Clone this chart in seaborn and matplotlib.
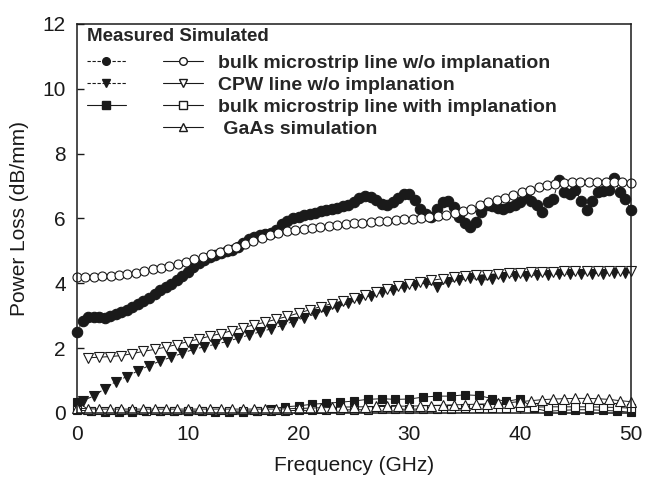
import numpy as np
import matplotlib
matplotlib.use("Agg")
from matplotlib import pyplot as plt
from matplotlib.lines import Line2D
from matplotlib.legend_handler import HandlerTuple
import seaborn as sns

# frequency grids (GHz)
f_meas_bulk = np.arange(0, 50.01, 0.5)
f_sim_bulk = np.linspace(0, 50, 67)
f_meas_cpw = np.arange(0.5, 50, 1.0)
f_sim_cpw = np.arange(1, 50.01, 1.0)
f_impl = np.arange(0, 50.01, 1.25)
f_gaas = np.arange(0, 50.01, 1.0)

# power loss (dB/mm)
meas_bulk = [2.50, 2.85, 2.95, 2.96, 2.95, 2.94, 3.00, 3.05, 3.12, 3.18,
             3.28, 3.36, 3.45, 3.56, 3.68, 3.78, 3.88, 3.98, 4.10, 4.22,
             4.35, 4.50, 4.62, 4.72, 4.80, 4.88, 4.94, 5.00, 5.04, 5.12,
             5.25, 5.36, 5.44, 5.49, 5.52, 5.55, 5.65, 5.82, 5.92, 6.00,
             6.05, 6.10, 6.15, 6.18, 6.22, 6.26, 6.28, 6.32, 6.38, 6.42,
             6.50, 6.62, 6.68, 6.66, 6.58, 6.45, 6.40, 6.52, 6.62, 6.76,
             6.74, 6.58, 6.30, 6.15, 6.05, 6.30, 6.52, 6.55, 6.35, 6.05,
             5.85, 5.75, 5.90, 6.20, 6.40, 6.38, 6.32, 6.30, 6.35, 6.40,
             6.50, 6.65, 6.55, 6.40, 6.20, 6.50, 6.60, 7.20, 6.80, 6.75,
             6.88, 6.55, 6.25, 6.55, 6.80, 6.85, 6.88, 7.25, 6.80, 6.60,
             6.25]
sim_bulk = [4.20, 4.20, 4.20, 4.21, 4.22, 4.25, 4.28, 4.33, 4.39, 4.44,
            4.48, 4.53, 4.60, 4.66, 4.74, 4.81, 4.89, 4.96, 5.05, 5.13,
            5.21, 5.30, 5.40, 5.48, 5.54, 5.60, 5.64, 5.67, 5.70, 5.73,
            5.76, 5.80, 5.83, 5.85, 5.87, 5.89, 5.91, 5.93, 5.95, 5.97,
            5.98, 6.00, 6.03, 6.06, 6.12, 6.18, 6.24, 6.30, 6.40, 6.50,
            6.57, 6.63, 6.72, 6.80, 6.89, 6.96, 7.02, 7.07, 7.10, 7.12,
            7.13, 7.13, 7.13, 7.13, 7.12, 7.12, 7.10]
meas_cpw = [0.38, 0.52, 0.75, 0.97, 1.12, 1.30, 1.46, 1.60, 1.72, 1.84,
            1.96, 2.04, 2.12, 2.20, 2.30, 2.40, 2.50, 2.59, 2.70, 2.82,
            2.94, 3.05, 3.16, 3.27, 3.38, 3.52, 3.62, 3.72, 3.80, 3.87,
            3.95, 4.00, 3.90, 4.04, 4.10, 4.16, 4.10, 4.12, 4.20, 4.22,
            4.23, 4.26, 4.27, 4.28, 4.28, 4.29, 4.30, 4.30, 4.31, 4.32]
sim_cpw = [1.70, 1.72, 1.74, 1.77, 1.83, 1.90, 1.96, 2.03, 2.11, 2.20,
           2.28, 2.37, 2.45, 2.54, 2.63, 2.72, 2.80, 2.89, 2.98, 3.08,
           3.18, 3.28, 3.37, 3.46, 3.56, 3.65, 3.74, 3.83, 3.91, 3.98,
           4.04, 4.09, 4.14, 4.18, 4.21, 4.24, 4.27, 4.29, 4.31, 4.33,
           4.34, 4.35, 4.36, 4.37, 4.37, 4.38, 4.38, 4.38, 4.39, 4.39]
meas_impl = [0.35, 0.05, 0.02, 0.03, 0.04, 0.05, 0.06, 0.06, 0.06, 0.05,
             0.04, 0.03, 0.02, 0.05, 0.12, 0.19, 0.22, 0.27, 0.30, 0.33,
             0.37, 0.42, 0.44, 0.42, 0.43, 0.49, 0.52, 0.52, 0.56, 0.54,
             0.44, 0.36, 0.43, 0.15, 0.05, 0.08, 0.10, 0.10, 0.08, 0.06,
             0.02]
sim_impl = [0.08, 0.07, 0.06, 0.06, 0.06, 0.06, 0.06, 0.06, 0.06, 0.06,
            0.06, 0.06, 0.06, 0.07, 0.07, 0.07, 0.08, 0.08, 0.09, 0.09,
            0.10, 0.10, 0.11, 0.11, 0.12, 0.12, 0.13, 0.13, 0.14, 0.14,
            0.15, 0.16, 0.17, 0.18, 0.19, 0.19, 0.19, 0.19, 0.18, 0.17,
            0.15]
sim_gaas = [0.15, 0.13, 0.12, 0.12, 0.12, 0.12, 0.12, 0.12, 0.12, 0.12,
            0.12, 0.12, 0.12, 0.12, 0.12, 0.12, 0.12, 0.12, 0.12, 0.13,
            0.14, 0.15, 0.16, 0.17, 0.18, 0.19, 0.19, 0.20, 0.20, 0.21,
            0.21, 0.22, 0.23, 0.24, 0.25, 0.26, 0.27, 0.28, 0.30, 0.32,
            0.35, 0.38, 0.41, 0.43, 0.44, 0.45, 0.45, 0.44, 0.42, 0.38,
            0.35]

labels = ["bulk microstrip line w/o implanation", "CPW line w/o implanation",
          "bulk microstrip line with implanation", " GaAs simulation"]

sns.set_theme(style="ticks")
plt.rcParams['font.family'] = ['Liberation Sans', 'DejaVu Sans']

fig = plt.figure(figsize=(6.47, 4.87), dpi=100)
ax = fig.add_axes([0.119, 0.152, 0.856, 0.799])

# (x, y, marker, size, filled, linestyle)
series = [
    (f_meas_bulk, meas_bulk, 'o', 7.5, True, (0, (4, 2))),
    (f_meas_cpw, meas_cpw, 'v', 7.5, True, (0, (4, 2))),
    (f_impl, meas_impl, 's', 5.5, True, '-'),
    (f_sim_bulk, sim_bulk, 'o', 6.5, False, '-'),
    (f_sim_cpw, sim_cpw, 'v', 7.5, False, '-'),
    (f_impl, sim_impl, 's', 5.5, False, '-'),
    (f_gaas, sim_gaas, '^', 7.0, False, '-'),
]
for x, y, m, ms, filled, ls in series:
    sns.lineplot(x=x, y=y, ax=ax, estimator=None, sort=False, color='k',
                 linestyle=ls, linewidth=0.7, marker=m, markersize=ms,
                 markerfacecolor='k' if filled else 'white',
                 markeredgecolor='k', markeredgewidth=0.8, clip_on=False)

ax.set_xlim(0, 50)
ax.set_ylim(0, 12)
ax.set_xticks([0, 10, 20, 30, 40, 50])
ax.set_yticks([0, 2, 4, 6, 8, 10, 12])
ax.tick_params(direction='in', length=5, width=1, labelsize=15, color='k', labelcolor='k')
ax.tick_params(axis='x', pad=9)
ax.tick_params(axis='y', pad=8)
for sp in ax.spines.values():
    sp.set_visible(True)
    sp.set_color('k')
    sp.set_linewidth(1.1)
ax.set_xlabel("Frequency (GHz)", fontsize=15, color='k', labelpad=8)
ax.set_ylabel("Power Loss (dB/mm)", fontsize=15, color='k', labelpad=10)

def h(m, filled, ls):
    return Line2D([], [], color='k', lw=0.8, ls=ls, marker=m, markersize=5.5,
                  markerfacecolor='k' if filled else 'white', markeredgecolor='k')

blank = Line2D([], [], ls='none')
handles = [
    (h('o', True, (0, (3, 1.5))), h('o', False, '-')),
    (h('v', True, (0, (3, 1.5))), h('v', False, '-')),
    (h('s', True, '-'), h('s', False, '-')),
    (blank, h('^', False, '-')),
]
leg = ax.legend(handles, labels, handler_map={tuple: HandlerTuple(ndivide=None, pad=1.9)},
                loc='upper left', bbox_to_anchor=(0.012, 0.996), frameon=False,
                title="Measured Simulated", alignment='left',
                handlelength=6.0, handletextpad=0.75, labelspacing=0.22,
                borderpad=0.15, borderaxespad=0.0,
                prop={'weight': 'bold', 'size': 14})
leg.get_title().set_fontweight('bold')
leg.get_title().set_fontsize(13.5)
leg._legend_box.sep = 6.5  # extra gap under the "Measured Simulated" header

fig.savefig("out.png", dpi=100)
